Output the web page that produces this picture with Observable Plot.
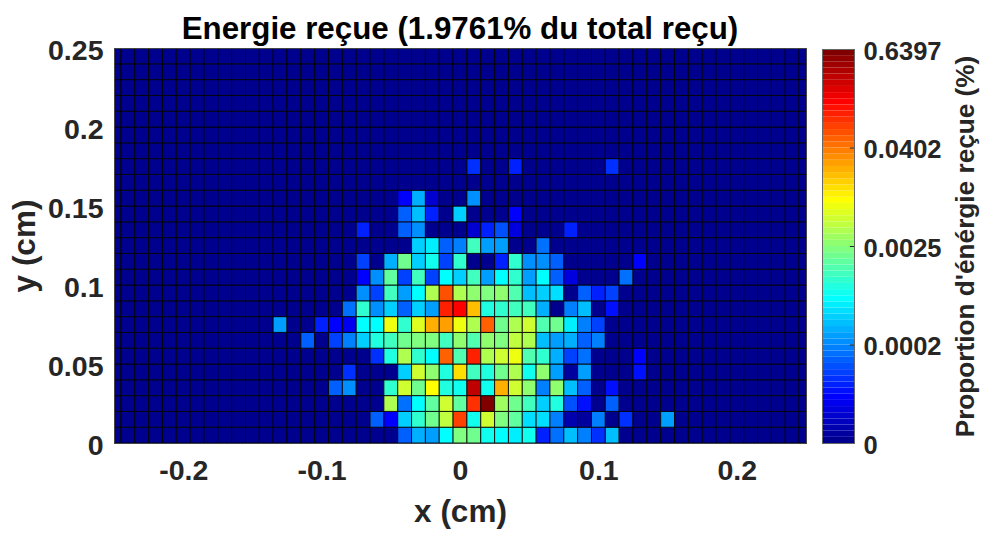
<!DOCTYPE html>
<html>
<head>
<meta charset="utf-8">
<script src="https://cdn.jsdelivr.net/npm/d3@7"></script>
<script src="https://cdn.jsdelivr.net/npm/@observablehq/plot@0.6"></script>
<style>
html,body{margin:0;padding:0;background:#fff}
#chart{position:relative;width:983px;height:534px;overflow:hidden;font-family:"Liberation Sans",Arial,sans-serif;font-weight:bold}
#chart svg{position:absolute;left:0;top:0;background:transparent}
#title{position:absolute;left:114px;width:692px;top:9px;text-align:center;font-size:31.3px;line-height:40px;color:#000;white-space:nowrap}
</style>
</head>
<body>
<div id="chart"><div id="title"></div></div>
<script>
const titleText = "Energie reçue (1.9761% du total reçu)";
const xLabel = "x (cm)";
const yLabel = "y (cm)";
const barLabel = "Proportion d'énérgie reçue (%)";
const xTicks = [-0.2, -0.1, 0, 0.1, 0.2];
const yTicks = [0, 0.05, 0.1, 0.15, 0.2, 0.25];
const barTickLevels = [0, 16, 32, 48, 64];
const barTickLabels = ["0", "0.0002", "0.0025", "0.0402", "0.6397"];

// Colour-bar level (1..64) of each cell.
// Each row lists columns x = -0.13 .. 0.15 (step 0.01); rows are y = 0, 0.01, ...
const firstColumn = -13;
const floorLevel = 1;
const row00 = [1,1,1,1,1,1,1,1,1,14,19,18,24,32,31,25,24,23,25,10,15,20,16,11,20,1,1,1,1];
const row01 = [1,1,1,1,1,1,1,14,8,21,27,31,36,52,25,37,32,30,22,22,16,3,2,16,1,11,1,1,18];
const row02 = [1,1,1,1,1,1,1,1,35,15,24,30,37,30,53,64,34,31,28,21,26,13,9,1,14,1,1,1,1];
const row03 = [1,1,1,1,14,17,1,1,27,37,31,40,26,25,60,25,45,37,33,16,33,20,14,1,9,1,1,1,1];
const row04 = [1,1,1,1,1,11,1,1,1,21,37,33,26,42,28,26,31,35,25,33,18,2,18,1,1,1,9,1,1];
const row05 = [1,1,1,1,1,1,1,11,26,35,27,24,50,29,54,35,37,39,29,27,19,12,15,1,1,1,8,1,1];
const row06 = [1,1,14,1,12,16,21,26,28,31,32,32,28,33,29,33,32,36,35,20,18,19,14,16,1,1,1,1,1];
const row07 = [18,1,1,10,8,7,24,24,39,27,38,45,46,39,35,50,31,35,37,29,31,23,16,12,1,1,1,1,1];
const row08 = [1,1,1,1,1,15,27,17,21,14,21,18,54,56,44,26,27,28,28,19,1,16,20,1,9,1,1,1,1];
const row09 = [1,1,1,1,1,1,17,12,28,18,24,35,51,35,33,32,33,29,20,21,22,1,14,10,12,1,1,1,1];
const row10 = [1,1,1,1,1,1,8,17,30,12,28,12,24,21,28,18,24,27,18,24,14,6,1,1,1,15,1,1,1];
const row11 = [1,1,1,1,1,1,12,1,19,31,21,25,12,27,1,1,10,27,17,17,14,1,1,1,1,1,8,1,1];
const row12 = [1,1,1,1,1,1,1,1,1,1,21,23,14,16,28,18,18,1,1,15,1,1,1,1,1,1,1,1,1];
const row13 = [1,1,1,1,1,1,10,1,1,14,17,1,1,1,5,10,13,6,1,1,1,10,1,1,1,1,1,1,1];
const row14 = [1,1,1,1,1,1,1,1,1,14,20,10,1,21,1,1,1,8,1,1,1,1,1,1,1,1,1,1,1];
const row15 = [1,1,1,1,1,1,1,1,1,8,19,5,1,1,17,1,1,1,1,1,1,1,1,1,1,1,1,1,1];
const row16 = [1,1,1,1,1,1,1,1,1,1,1,1,1,1,1,1,1,1,1,1,1,1,1,1,1,1,1,1,1];
const row17 = [1,1,1,1,1,1,1,1,1,1,1,1,1,1,11,1,1,10,1,1,1,1,1,1,11,1,1,1,1];
const rows = [row00,row01,row02,row03,row04,row05,row06,row07,row08,row09,row10,row11,row12,row13,row14,row15,row16,row17];

const nCols = 51, nRows = 25;
const cells = [];
for (let j = 0; j < nRows; j++) for (let c = -25; c < nCols - 25; c++) {
  const r = rows[j];
  const v = r && r[c - firstColumn];
  cells.push({x1:(c-0.5)/100, x2:(c+0.5)/100, y1:j/100, y2:(j+1)/100, level:v === undefined ? floorLevel : v});
}

// MATLAB jet(64)
function jet(L){
  const i = Math.max(1, Math.min(64, Math.round(L)));
  const c = t => Math.max(0, Math.min(1, t));
  const v = 4*i/64;
  const r = c(Math.min(v-1.5, 4.5-v)), g = c(Math.min(v-0.5, 3.5-v)), b = c(Math.min(v+0.5, 2.5-v));
  return d3.rgb(r*255, g*255, b*255).formatRgb();
}
const colorScale = {type:"linear", domain:[1,64], interpolate:t=>jet(1+t*63)};
const textColor = "#262626";
const fontStyle = {fontFamily:'"Liberation Sans",Arial,sans-serif', fontWeight:"bold", background:"transparent", color:textColor};

const main = Plot.plot({
  width:983, height:534,
  marginLeft:114, marginRight:177, marginTop:48, marginBottom:91,
  style:fontStyle,
  x:{domain:[-0.25,0.25]},
  y:{domain:[0,0.25]},
  color:colorScale,
  marks:[
    Plot.rect(cells,{x1:"x1",x2:"x2",y1:"y1",y2:"y2",fill:"level",stroke:"#000",strokeWidth:1,strokeOpacity:0.85,clip:true}),
    Plot.frame({stroke:"#444",strokeWidth:1}),
    Plot.axisX({ticks:xTicks,tickFormat:d=>String(d),tickSize:0,tickPadding:16,fontSize:28.5,label:null,fill:textColor,anchor:"bottom"}),
    Plot.axisY({ticks:yTicks,tickFormat:d=>String(d),tickSize:0,tickPadding:11,fontSize:28.5,label:null,fill:textColor,anchor:"left",dy:2}),
    Plot.text([xLabel],{frameAnchor:"bottom",dy:78,fontSize:31.5,fill:textColor}),
    Plot.text([yLabel],{frameAnchor:"left",rotate:-90,dx:-90,fontSize:31.5,textAnchor:"middle",fill:textColor})
  ]
});

const barLevels = d3.range(1,65);
const bar = Plot.plot({
  width:983, height:534,
  marginLeft:822, marginRight:129, marginTop:49, marginBottom:91,
  style:fontStyle,
  x:{domain:[0,1],axis:null},
  y:{domain:[0,64],axis:null},
  color:colorScale,
  marks:[
    Plot.rect(barLevels,{x1:0,x2:1,y1:d=>d-1,y2:d=>d,fill:d=>d}),
    Plot.ruleY(barTickLevels.slice(1,4),{x1:0.87,x2:1,stroke:textColor,strokeWidth:1}),
    Plot.frame({stroke:"#666",strokeWidth:1}),
    Plot.axisY({anchor:"right",ticks:barTickLevels,tickFormat:d=>barTickLabels[barTickLevels.indexOf(d)],tickSize:0,tickPadding:9,fontSize:25.5,textAnchor:"start",label:null,fill:textColor,dy:2}),
    Plot.text([barLabel],{frameAnchor:"right",rotate:-90,dx:111,fontSize:26.2,textAnchor:"middle",fill:textColor})
  ]
});

const root = document.getElementById("chart");
document.getElementById("title").textContent = titleText;
root.appendChild(main);
root.appendChild(bar);
</script>
</body>
</html>
